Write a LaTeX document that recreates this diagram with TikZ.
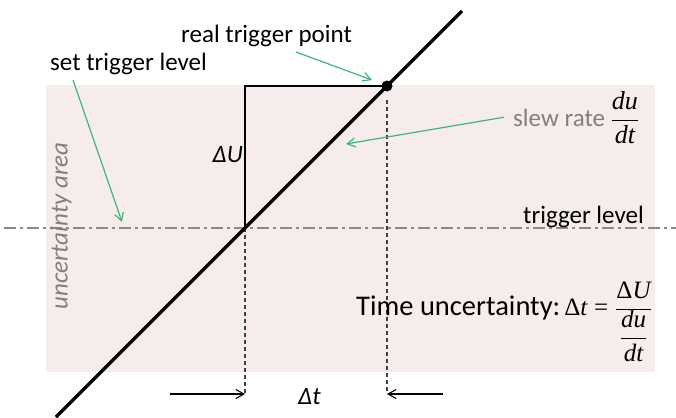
\documentclass[tikz,border=0pt]{standalone}
\usepackage{fontspec}
\setmainfont{Carlito}
\newfontfamily\tmfont{Liberation Serif}
\usetikzlibrary{arrows.meta}
\definecolor{pinkbg}{HTML}{F7ECEC}
\definecolor{greenarr}{HTML}{3CB878}
\definecolor{txtgray}{HTML}{808080}
\definecolor{linegray}{HTML}{8A8A8A}
\newcommand{\mi}[1]{\hbox{\fontsize{26}{30}\tmfont\itshape #1}}
\newcommand{\mr}[1]{\hbox{\fontsize{26}{30}\tmfont #1}}
\newcommand{\mib}[1]{\hbox{\fontsize{25}{29}\tmfont\itshape #1}}
\newcommand{\mrb}[1]{\hbox{\fontsize{25}{29}\tmfont #1}}
\begin{document}
\begin{tikzpicture}[x=1pt,y=-1pt,
  lbl/.style={inner sep=0pt,font=\fontsize{25}{29}\selectfont},
  biglbl/.style={inner sep=0pt,font=\fontsize{28.5}{33}\selectfont},
  greenarrow/.style={draw=greenarr,line width=1.2pt,-{Straight Barb[length=8pt,width=9pt]}},
  blackarrow/.style={draw=black,line width=1.1pt,-{Straight Barb[length=8pt,width=9pt]}},
  dashv/.style={draw=black!75,line width=1.2pt,dash pattern=on 4pt off 3pt},
  trigline/.style={draw=linegray,line width=1.3pt,dash pattern=on 12pt off 4pt on 3pt off 4pt}]
\useasboundingbox (0,0) rectangle (676,417);
% background area
\fill[pinkbg] (46,85) rectangle (655,372);
% coordinates
\coordinate (Q) at (245,228);
\coordinate (P) at (387,86);
\coordinate (C) at (245,86);
\coordinate (L0) at (56,417);
\coordinate (L1) at (462,11);
\coordinate (TL0) at (4,228);
\coordinate (TL1) at (676,228);
\coordinate (QB) at (245,394);
\coordinate (PT) at (387,100);
\coordinate (PB) at (387,394);
\coordinate (AL) at (170,394);
\coordinate (AR) at (443,394);
\coordinate (SA) at (122,222);
\coordinate (RA) at (372,80);
\coordinate (LA) at (346,144);
% trigger level line
\draw[trigline] (TL0) -- (TL1);
% delta U box
\draw[line width=1.2pt] (Q) -- (C) -- (P);
% dashed verticals
\draw[dashv] (Q) -- (QB);
\draw[dashv] (PT) -- (PB);
% main line
\draw[line width=3.5pt] (L0) -- (L1);
\fill (P) circle (5.5pt);
% bottom arrows
\draw[blackarrow] (AL) -- (QB);
\draw[blackarrow] (AR) -- (PB);
% labels
\node[lbl,anchor=base west] (stl) at (50,71) {set trigger level};
\node[lbl,anchor=base west] (rtp) at (181,43) {real trigger point};
\node[lbl,anchor=base west] (tl) at (523,223) {trigger level};
\node[lbl,anchor=base east] (dU) at (243,162) {\itshape ΔU};
\node[lbl,anchor=base west] (dt) at (298,404) {\itshape Δt};
\node[lbl,rotate=90,text=txtgray] (ua) at (61,226) {\itshape uncertainty area};
\node[lbl,anchor=base west] (sr) at (513,126) {\textcolor{txtgray}{slew rate} $\displaystyle\frac{\mi{du}}{\mi{dt}}$};
\node[biglbl,anchor=base west] (tu) at (356,315) {Time uncertainty:\hspace{4pt}$\mrb{Δ}\mib{t}\;\mrb{=}\;\displaystyle\frac{\mrb{Δ}\mib{U}}{\displaystyle\frac{\mib{du}}{\mib{dt}}}$};
% green arrows
\draw[greenarrow] (73,80) -- (SA);
\draw[greenarrow] (296,52) -- (RA);
\draw[greenarrow] (sr.west) ++(-9,0) -- (LA);
\end{tikzpicture}
\end{document}
